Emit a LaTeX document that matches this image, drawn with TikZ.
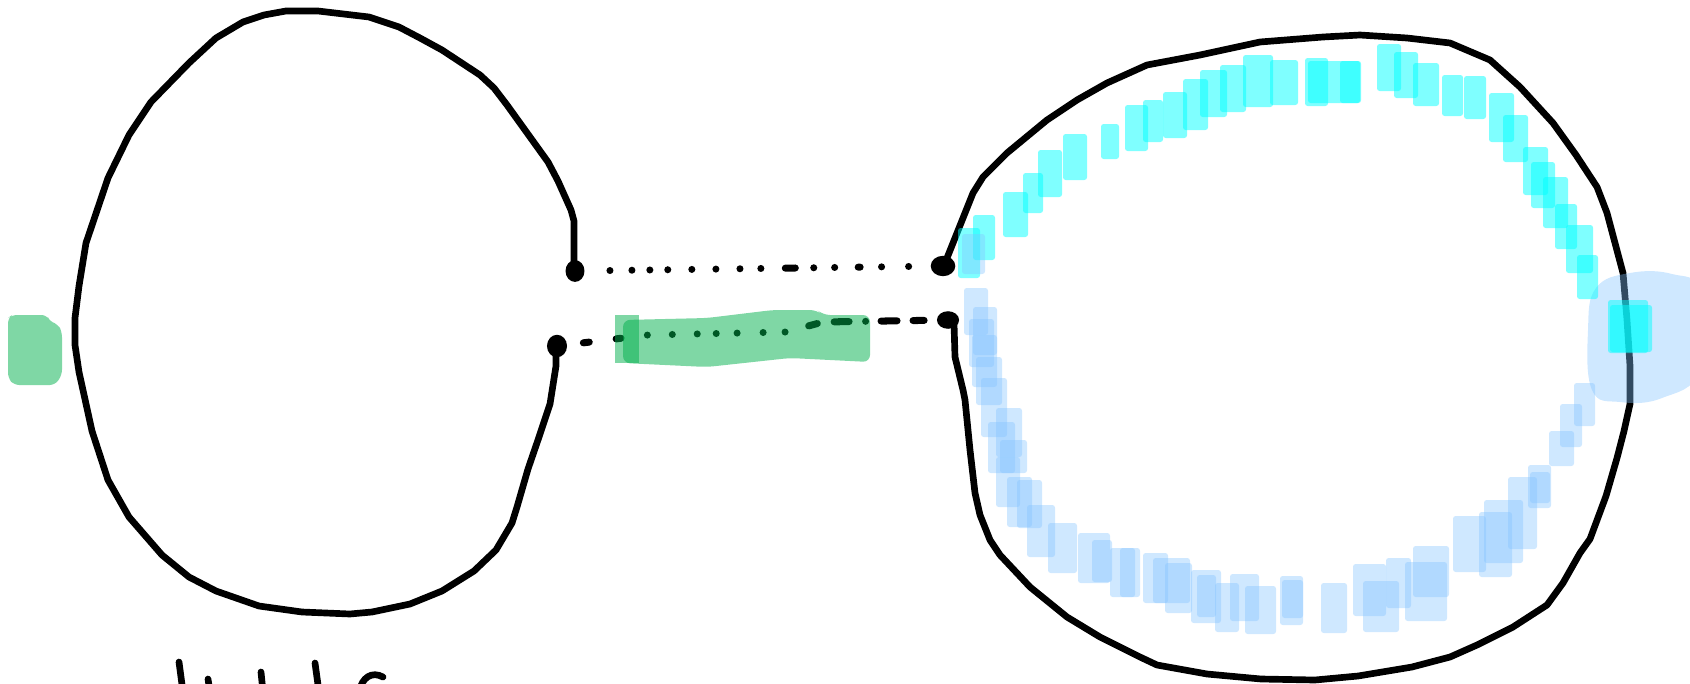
\documentclass[tikz,border=0pt]{standalone}

\definecolor{markgreen}{RGB}{0,177,77}
\definecolor{markcyan}{RGB}{0,255,255}
\definecolor{markblue}{RGB}{130,195,255}

\tikzset{
  loopline/.style={line width=3.8pt, line join=round, line cap=round},
  linkline/.style={line width=4pt, line cap=round},
  greenmark/.style={fill=markgreen, fill opacity=0.5},
  cyanmark/.style={fill=markcyan, fill opacity=0.5, rounded corners=1.5pt},
  bluemark/.style={fill=markblue, fill opacity=0.38, rounded corners=1.5pt}
}

\begin{document}
\begin{tikzpicture}[x=0.02cm, y=-0.02cm]
	\clip (0,0) rectangle (1690,683);
	\fill[white] (0,0) rectangle (1690,683);

	% --- LEFT LOOP ---
	\coordinate (ltop) at (575,271);
	\coordinate (lbot) at (557,346);
	\draw[loopline] (574,264) -- (574,221) -- (571,210) -- (558,181) -- (548,162) -- (507,105) -- (494,88)
		-- (480,75) -- (442,50) -- (420,38) -- (399,27) -- (369,17) -- (318,11) -- (286,11) -- (264,15)
		-- (243,22) -- (216,38) -- (189,63) -- (151,102) -- (129,135) -- (108,178) -- (86,243) -- (79,286)
		-- (75,318) -- (75,345) -- (79,372) -- (92,431) -- (108,480) -- (129,517) -- (162,555) -- (189,577)
		-- (216,591) -- (259,606) -- (302,612) -- (350,614) -- (372,612) -- (410,604) -- (442,591)
		-- (474,571) -- (496,550) -- (512,523) -- (517,507) -- (528,469) -- (539,437) -- (550,404)
		-- (556,366) -- (556,350);
	\fill (ltop) ellipse (5.4pt and 6.2pt);
	\fill (lbot) ellipse (5.7pt and 6.4pt);

	% --- RIGHT LOOP ---
	\coordinate (rtop) at (943,266);
	\coordinate (rbot) at (948,320);
	\draw[loopline] (945,263) -- (957,233) -- (973,193) -- (983,177) -- (1007,153) -- (1047,120) -- (1077,100)
		-- (1107,83) -- (1147,65) -- (1200,55) -- (1260,42) -- (1323,37) -- (1360,35) -- (1407,38)
		-- (1450,43) -- (1490,60) -- (1520,87) -- (1553,123) -- (1576,155) -- (1597,187) -- (1607,213)
		-- (1623,273) -- (1627,320) -- (1630,366) -- (1630,404) -- (1624,431) -- (1617,458) -- (1606,496)
		-- (1590,539) -- (1580,553) -- (1563,583) -- (1547,605) -- (1513,627) -- (1477,645) -- (1450,657)
		-- (1412,667) -- (1358,676) -- (1315,680) -- (1261,679) -- (1207,674) -- (1157,665) -- (1140,657)
		-- (1100,637) -- (1067,617) -- (1030,587) -- (1000,555) -- (990,540) -- (980,515) -- (975,493)
		-- (970,450) -- (965,400) -- (963,390) -- (955,357) -- (954,323);
	\fill (rtop) ellipse (7pt and 5.8pt);
	\fill (rbot) ellipse (6.3pt and 5pt);

	% --- LINKS BETWEEN THE LOOPS ---
	\draw[linkline, dash pattern=on 0pt off 19.9pt on 0pt off 12.5pt on 0pt off 10.2pt on 0pt off 10.2pt
		on 0pt off 13.7pt on 0pt off 13.7pt on 0pt off 13.7pt on 0pt off 11.9pt on 0pt off 13.9pt
		on 5.7pt off 10.5pt on 0pt off 11.9pt on 0pt off 13.4pt on 1.1pt off 12.2pt on 0pt off 15.4pt
		on 0pt off 17.6pt] (ltop) -- (rtop);
	\draw[linkline, line join=round, dash pattern=on 0pt off 15.1pt on 3.4pt off 15.4pt on 2.8pt off 15.1pt
		on 0pt off 14.2pt on 0pt off 14.2pt on 0pt off 10.8pt on 0pt off 11.9pt on 0pt off 14.8pt
		on 0pt off 12.5pt on 0pt off 13.9pt on 5.1pt off 9.7pt on 8.5pt off 9.4pt on 0pt off 8.8pt
		on 9.1pt off 9.1pt on 6.3pt off 12.2pt]
		(lbot) -- (648,335) -- (786,332) -- (823,322) -- (rbot);

	% --- HANDWRITING AT THE BOTTOM (cut off) ---
	\draw[loopline] (179,662) -- (183,692);
	\draw[loopline] (208,679) -- (210,692);
	\draw[loopline] (261,672) -- (263,692);
	\draw[loopline] (315,663) -- (319,692);
	\draw[loopline] (359,692) .. controls (362,677) and (372,671) .. (383,677);

	% --- GREEN MARKS ---
	\fill[greenmark, rounded corners=3pt] (8,318) -- (12,315) -- (47,315) -- (50,322) -- (58,324) -- (62,332)
		-- (62,375) -- (55,385) -- (14,385) -- (8,378) -- cycle;
	\fill[greenmark, rounded corners=4pt] (623,320) -- (707,318) -- (773,310) -- (817,310) -- (823,315)
		-- (870,315) -- (870,362) -- (790,358) -- (707,367) -- (623,363) -- cycle;
	\fill[greenmark] (615,315) rectangle (639,363);

	% --- BLUE MARKS (inner lower arc) ---
	\foreach \xa/\ya/\xb/\yb in {964/288/988/335, 973/307/997/355, 969/319/994/367, 972/335/997/387,
		976/357/1002/405, 981/378/1007/437, 988/422/1015/473, 996/408/1022/457, 1000/440/1027/473,
		996/457/1020/507, 1007/477/1032/527, 1017/480/1042/528, 1027/505/1055/557, 1048/523/1077/573,
		1078/533/1110/583, 1092/540/1112/582, 1110/548/1140/597, 1120/548/1135/597, 1143/553/1168/603,
		1153/558/1190/603, 1165/563/1192/613, 1191/570/1221/623, 1197/575/1216/617, 1215/583/1239/632,
		1230/574/1259/621, 1245/586/1276/634, 1280/576/1303/625, 1282/580/1303/618, 1321/583/1347/633,
		1353/564/1386/616, 1363/581/1399/632, 1386/558/1411/608, 1405/562/1447/621, 1413/546/1449/597,
		1453/516/1486/572, 1479/512/1512/577, 1484/500/1523/563, 1508/477/1537/549, 1528/465/1551/508,
		1530/472/1550/503, 1549/431/1574/466, 1560/404/1582/447, 1574/383/1595/426}
		\fill[bluemark] (\xa,\ya) rectangle (\xb,\yb);
	\fill[markblue, fill opacity=0.38] plot[smooth cycle, tension=0.7] coordinates {(1596,288) (1630,273)
		(1672,274) (1700,292) (1700,370) (1662,398) (1620,402) (1592,390) (1588,330)};

	% --- CYAN MARKS (inner upper arc) ---
	\foreach \xa/\ya/\xb/\yb in {958/228/980/278, 973/215/995/260, 1003/192/1028/237, 1023/173/1043/213,
		1038/150/1062/197, 1063/134/1087/180, 1101/124/1119/159, 1125/105/1148/151, 1143/100/1163/142,
		1163/92/1187/138, 1183/79/1208/130, 1200/70/1227/117, 1220/65/1246/112, 1243/55/1273/107,
		1270/60/1298/105, 1305/58/1328/106, 1308/61/1360/103, 1340/61/1361/103, 1377/44/1401/91,
		1394/52/1418/98, 1413/63/1439/106, 1442/75/1463/116, 1464/76/1486/119, 1489/93/1514/142,
		1503/115/1528/162, 1523/147/1548/195, 1531/162/1555/208, 1543/177/1568/228, 1555/204/1577/249,
		1566/225/1593/273, 1577/255/1598/299, 1608/300/1648/353, 1610/305/1652/352}
		\fill[cyanmark] (\xa,\ya) rectangle (\xb,\yb);
	\fill[bluemark] (962,234) rectangle (985,274);
\end{tikzpicture}
\end{document}
